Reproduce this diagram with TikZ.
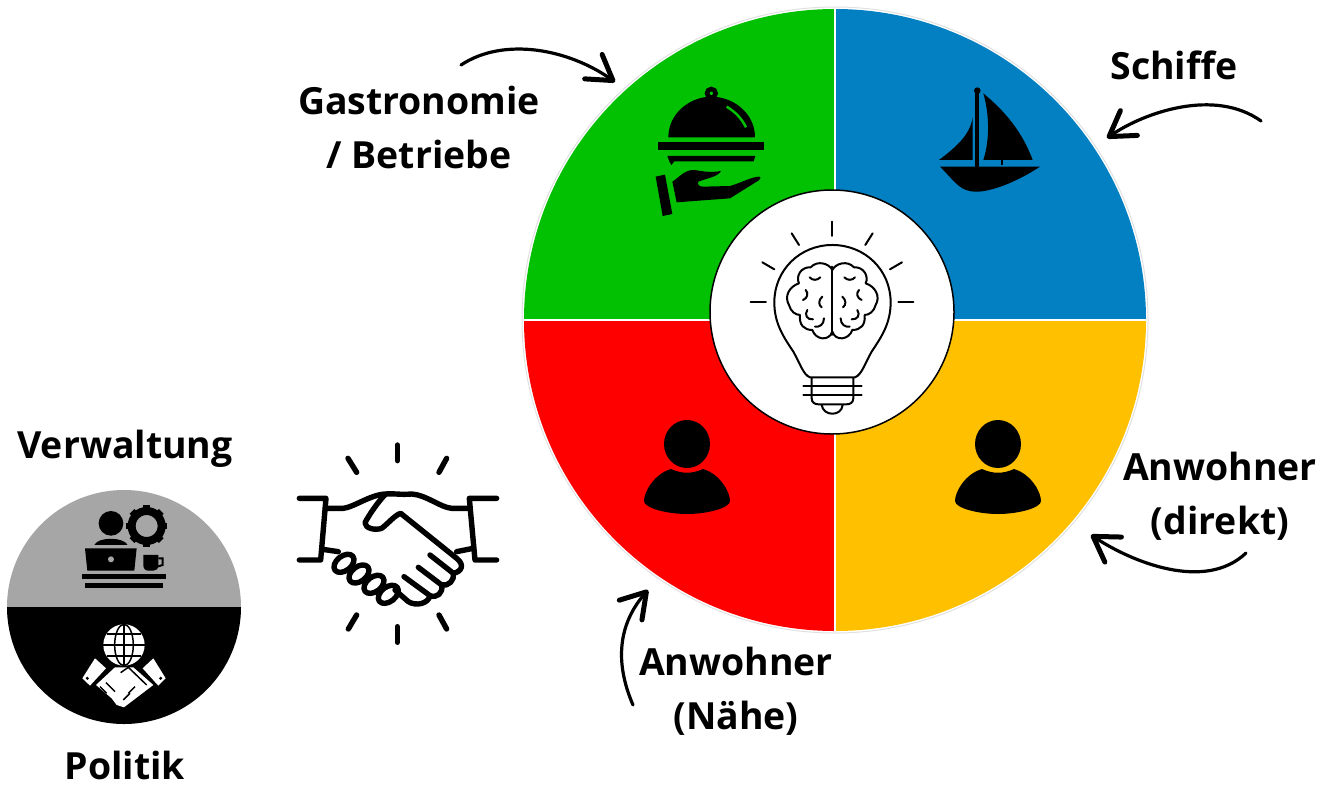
\documentclass[tikz,border=0pt]{standalone}
\usepackage{fontspec}
\setmainfont{Open Sans}
\usetikzlibrary{arrows.meta}
\definecolor{sailblue}{HTML}{0280C2}
\definecolor{foodgreen}{HTML}{02C002}
\definecolor{homeyellow}{HTML}{FFC000}
\definecolor{nearred}{HTML}{FF0000}
\definecolor{officegrey}{HTML}{A6A6A6}
\tikzstyle{lbl} = [font=\fontsize{37.4}{54}\selectfont\bfseries,align=center,inner sep=0pt]
\tikzstyle{es} = [line width=3.2pt,line cap=round,-{Straight Barb[length=24pt,width=30pt,line width=5pt,round]}]
\tikzstyle{shake} = [line width=5.4pt,line cap=round,line join=round]
\tikzstyle{fineline} = [line width=2pt,line cap=round,line join=round]
\tikzset{person/.pic={
	\fill (0pt,0pt) ellipse [x radius=23pt,y radius=24pt];
	\fill (-16pt,25pt) .. controls (-5pt,30pt) and (5pt,30pt) .. (16pt,25pt) .. controls (33pt,30pt) and (43pt,48pt) .. (43pt,57pt) .. controls (43pt,64pt) and (20pt,70pt) .. (0pt,70pt) .. controls (-20pt,70pt) and (-43pt,64pt) .. (-43pt,57pt) .. controls (-43pt,48pt) and (-33pt,30pt) .. (-16pt,25pt) -- cycle;
}}
\begin{document}
\begin{tikzpicture}[yscale=-1]
	\useasboundingbox (0pt,0pt) rectangle (1322pt,790pt);
	\coordinate (hub) at (835pt,320pt);
	% wheel
	\draw[black!12,line width=1pt] (hub) circle [radius=313pt];
	\foreach \a/\col in {0/homeyellow,90/nearred,180/foodgreen,270/sailblue}
		\fill[\col] (hub) -- ++(\a:311pt) arc [start angle=\a,delta angle=90,radius=311pt] -- cycle;
	\draw[white,line width=1.5pt] (524pt,320pt) -- (1146pt,320pt);
	\draw[white,line width=1.5pt] (835pt,9pt) -- (835pt,631pt);
	\node (lamp) at (832pt,312pt) [circle,draw,fill=white,line width=1.5pt,minimum size=244pt,inner sep=0pt] {};

	% icons in the wheel, in crop coordinates
	\begin{scope}[shift={(640pt,70pt)},x=0.3333pt,y=0.3333pt]
		% dish
		\fill (85,202) .. controls (85,130) and (150,80) .. (214,80) .. controls (280,80) and (345,130) .. (345,202) -- cycle;
		\draw[line width=4.5pt] (214,70) circle [radius=13];
		\draw[foodgreen,line width=2.5pt] (260,110) .. controls (285,125) and (305,145) .. (318,172);
		\fill (55,217) rectangle (372,241);
		\fill (82,258) -- (346,258) -- (341,274) -- (103,274) -- (94,285) -- (88,274) -- cycle;
		\fill (47,320) -- (75,314) -- (97,432) -- (68,438) -- cycle;
		\fill (97,335) .. controls (120,320) and (135,298) .. (165,300) .. controls (190,305) and (215,308) .. (243,303) .. controls (235,320) and (200,325) .. (175,335) .. controls (172,345) and (178,350) .. (190,350) -- (270,348) .. controls (300,340) and (335,320) .. (358,320) .. controls (365,322) and (360,330) .. (350,335) -- (270,385) -- (110,397) -- cycle;
		% boat
		\fill (1006,60) rectangle (1018,290);
		\fill (1012,62) circle [radius=10];
		\fill (1030,70) .. controls (1048,130) and (1050,210) .. (1030,270) -- (1178,270) .. controls (1145,180) and (1090,120) .. (1030,70) -- cycle;
		\fill (998,142) .. controls (990,195) and (950,230) .. (897,270) -- (998,270) -- cycle;
		\fill (1082,270) rectangle (1088,285);
		\fill (900,290) -- (1200,290) .. controls (1140,330) and (1060,365) .. (1010,365) .. controls (960,365) and (950,340) .. (900,290) -- cycle;
		% bulb
		\draw[fineline] (510,922) .. controls (490,915) and (480,880) .. (460,845) .. controls (430,800) and (403,760) .. (403,697) .. controls (403,600) and (480,525) .. (577,525) .. controls (675,525) and (752,600) .. (752,697) .. controls (752,760) and (725,800) .. (695,845) .. controls (675,880) and (665,915) .. (645,922) -- cycle;
		\draw[fineline] (515,925) -- (515,985) .. controls (515,998) and (525,1003) .. (535,1003) -- (620,1003) .. controls (630,1003) and (640,998) .. (640,985) -- (640,925);
		\draw[fineline] (490,948) -- (665,948);
		\draw[fineline] (490,975) -- (665,975);
		\draw[fineline] (545,1005) .. controls (550,1040) and (605,1040) .. (608,1005);
		\foreach \xa/\ya/\xb/\yb in {577/455/577/498,455/490/477/525,698/490/676/525,367/577/403/598,786/577/750/598,332/697/378/697,775/697/820/697}
			\draw[fineline] (\xa,\ya) -- (\xb,\yb);
		% brain
		\draw[fineline] (577,590) -- (577,795);
		\foreach \s in {1,-1} {
			\begin{scope}[shift={(577,0)},xscale=\s]
				\draw[fineline] (0,600) .. controls (-10,580) and (-45,570) .. (-65,592) .. controls (-95,590) and (-110,620) .. (-100,640) .. controls (-130,650) and (-145,680) .. (-130,705) .. controls (-125,725) and (-110,735) .. (-97,735) .. controls (-100,765) and (-85,780) .. (-60,780) .. controls (-50,810) and (-10,815) .. (0,785);
				\draw[fineline] (-68,622) .. controls (-60,632) and (-45,632) .. (-36,622);
				\draw[fineline] (-80,660) .. controls (-70,670) and (-75,685) .. (-88,690);
				\draw[fineline] (-30,680) .. controls (-42,690) and (-42,705) .. (-32,712);
				\draw[fineline] (-75,720) .. controls (-85,735) and (-75,750) .. (-58,748);
				\draw[fineline] (-25,745) .. controls (-25,765) and (-40,772) .. (-52,770);
			\end{scope}
		}
	\end{scope}
	\pic[yscale=-1] at (687pt,444pt) {person};
	\pic[yscale=-1] at (998pt,444pt) {person};

	% handshake
	\begin{scope}[shift={(280pt,430pt)},x=0.3333pt,y=0.3333pt]
		\foreach \xa/\ya/\xb/\yb in {352/45/352/92,204/85/230/127,500/85/477/127,230/555/205/597,477/555/500/597,352/590/352/637}
			\draw[shake] (\xa,\ya) -- (\xb,\yb);
		\draw[shake] (58,205) -- (138,205) -- (122,390) -- (58,390);
		\draw[shake] (650,205) -- (568,205) -- (585,390) -- (650,390);
		\draw[shake] (136,235) -- (190,235) .. controls (220,232) and (270,195) .. (315,192) .. controls (350,190) and (360,195) .. (395,192) .. controls (440,195) and (480,232) .. (515,235) -- (570,235);
		\draw[shake] (315,194) .. controls (295,215) and (270,250) .. (255,278) .. controls (255,295) and (285,302) .. (305,295) .. controls (325,280) and (345,255) .. (362,250) -- (530,385) .. controls (555,405) and (545,425) .. (520,430) -- (450,375);
		\draw[shake] (520,430) .. controls (525,450) and (505,470) .. (485,465) -- (415,412);
		\draw[shake] (485,465) .. controls (490,490) and (470,505) .. (450,497) -- (372,440);
		\draw[shake] (450,497) .. controls (445,520) and (410,530) .. (385,515) -- (345,480);
		\draw[shake] (128,358) -- (175,365);
		\draw[shake] (530,365) -- (580,355);
		\foreach \cx/\cy in {192/400,237/432,282/463,325/493}
			\draw[shake] (\cx,\cy) ellipse [x radius=34,y radius=22,rotate=-38];
	\end{scope}

	% office / politics disc
	\coordinate (disc) at (124pt,607pt);
	\fill[officegrey] (7pt,607pt) arc [start angle=180,delta angle=180,radius=117pt] -- cycle;
	\fill[black] (7pt,607pt) arc [start angle=180,delta angle=-180,radius=117pt] -- cycle;
	\begin{scope}[shift={(0pt,430pt)},x=0.3333pt,y=0.3333pt]
		\fill (333,280) circle [radius=37];
		\fill (283,345) .. controls (295,320) and (370,320) .. (383,345) -- cycle;
		\draw[line width=8pt] (440,288) circle [radius=45];
		\foreach \a in {0,45,...,315}
			\fill[rotate around={\a:(440,288)}] (430,226) rectangle (450,250);
		\fill (255,355) -- (410,355) -- (403,422) -- (262,422) -- cycle;
		\fill[officegrey] (333,388) circle [radius=9];
		\fill (430,375) -- (475,375) -- (475,405) .. controls (475,418) and (468,422) .. (460,422) -- (445,422) .. controls (435,422) and (430,415) .. (430,405) -- cycle;
		\draw[line width=2pt] (475,385) -- (488,385) -- (488,405) -- (472,410);
		\fill (247,432) rectangle (497,448);
		\fill (255,458) rectangle (490,474);
		% globe and hands
		\fill[white] (372,645) circle [radius=62];
		\draw[line width=1.5pt] (372,583) -- (372,707);
		\draw[line width=1.5pt] (310,645) -- (434,645);
		\draw[line width=1.5pt] (372,645) ellipse [x radius=28,y radius=62];
		\draw[line width=1.5pt] (320,612) -- (424,612);
		\draw[line width=1.5pt] (320,678) -- (424,678);
		\fill[white] (247,745) -- (285,685) -- (318,715) -- (270,767) -- cycle;
		\fill[white] (497,745) -- (460,685) -- (428,715) -- (475,767) -- cycle;
		\fill[white] (288,765) -- (345,712) -- (400,712) -- (460,765) -- (372,832) -- (350,825) -- (335,805) -- cycle;
		\fill[black] (262,745) circle [radius=5];
		\fill[black] (482,745) circle [radius=5];
		\draw[black,line width=1.5pt] (362,728) -- (385,712) -- (440,765);
		\draw[black,line width=1.5pt] (300,770) -- (320,790);
		\draw[black,line width=1.5pt] (318,758) -- (345,785);
		\draw[black,line width=1.5pt] (385,790) -- (405,770);
		\draw[black,line width=1.5pt] (370,810) -- (390,790);
	\end{scope}

	% labels
	\node (gastro) at (419pt,127pt) [lbl] {Gastronomie\\/ Betriebe};
	\node (schiffe) at (1174pt,65pt) [lbl,align=none] {Schiffe};
	\node (direkt) at (1220pt,496pt) [lbl] {Anwohner\\(direkt)};
	\node (naehe) at (736pt,691pt) [lbl] {Anwohner\\(Nähe)};
	\node (verwaltung) at (125pt,449pt) [lbl,align=none] {Verwaltung};
	\node (politik) at (125pt,765pt) [lbl,align=none] {Politik};

	% arrows
	\coordinate (gastroA) at (461pt,65pt);
	\coordinate (gastroB) at (615pt,82pt);
	\coordinate (schiffeA) at (1261pt,121pt);
	\coordinate (schiffeB) at (1107pt,138pt);
	\coordinate (direktA) at (1246pt,553pt);
	\coordinate (direktB) at (1091pt,535pt);
	\coordinate (naeheA) at (633pt,705pt);
	\coordinate (naeheB) at (648pt,590pt);
	\draw[es] (gastroA) .. controls (505pt,36pt) and (570pt,50pt) .. (gastroB);
	\draw[es] (schiffeA) .. controls (1215pt,88pt) and (1145pt,112pt) .. (schiffeB);
	\draw[es] (direktA) .. controls (1205pt,592pt) and (1132pt,562pt) .. (direktB);
	\draw[es] (naeheA) .. controls (617pt,668pt) and (615pt,628pt) .. (naeheB);
\end{tikzpicture}
\end{document}
